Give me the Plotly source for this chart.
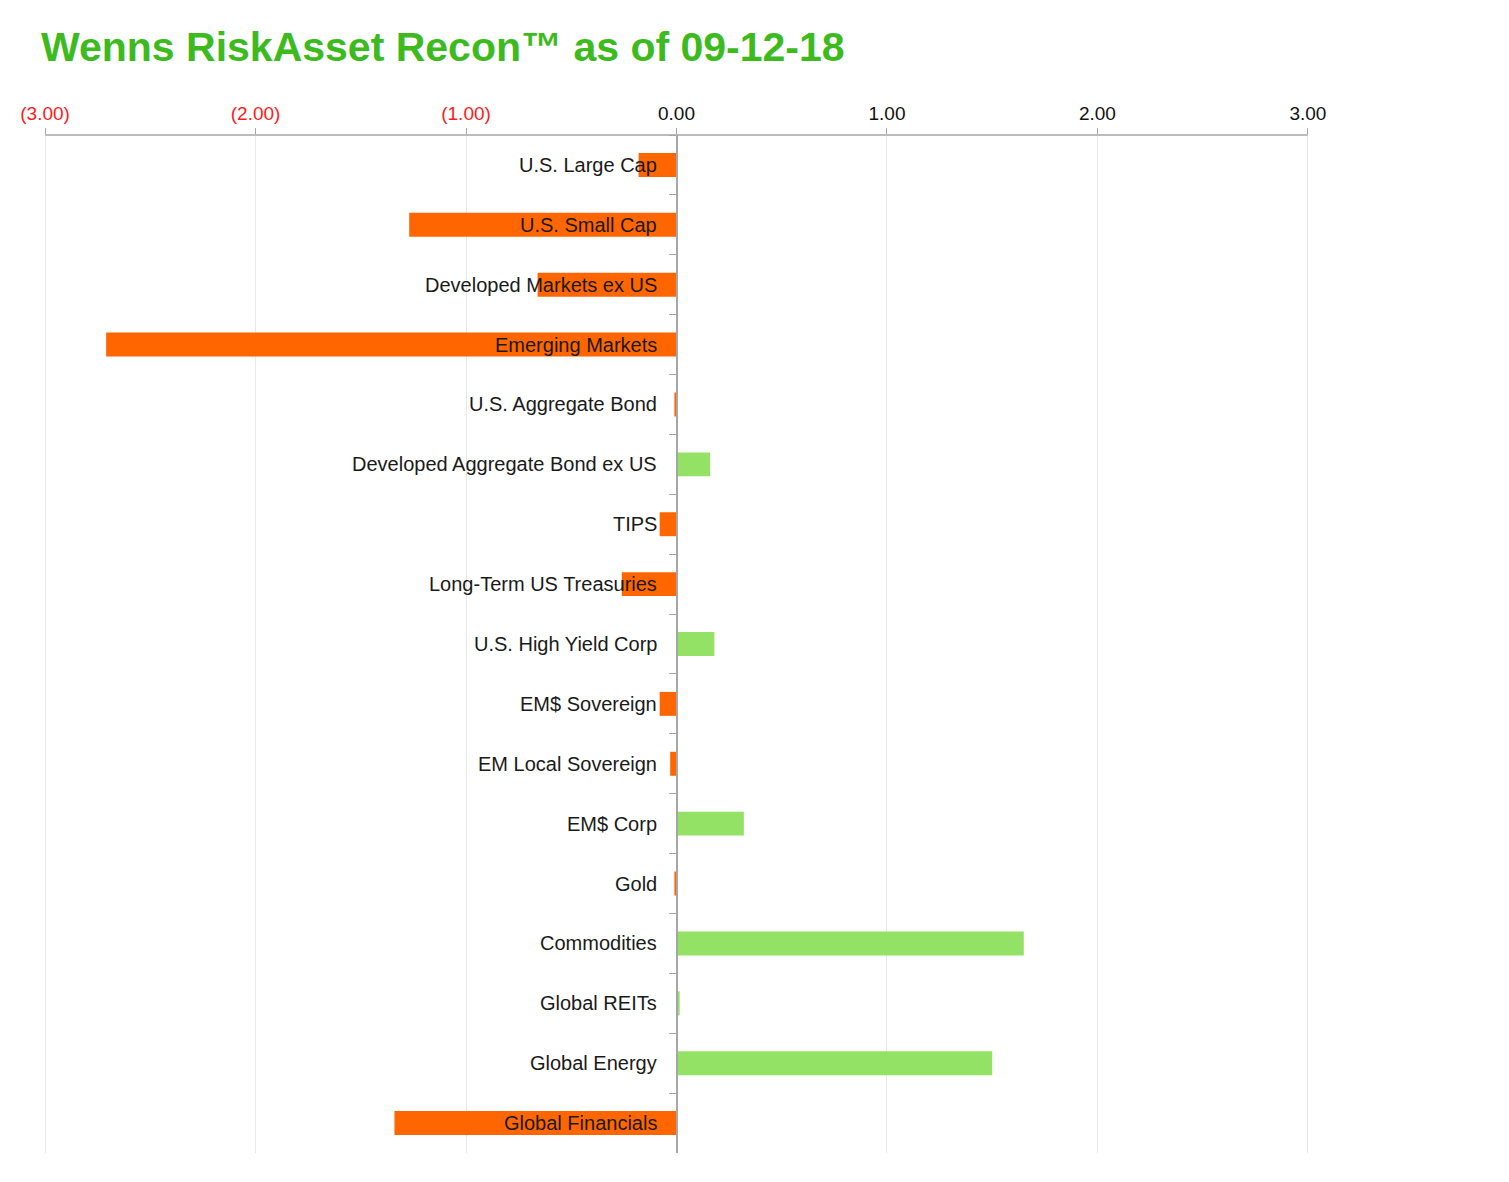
import plotly.graph_objects as go

categories = [
    "U.S. Large Cap", "U.S. Small Cap", "Developed Markets ex US", "Emerging Markets",
    "U.S. Aggregate Bond", "Developed Aggregate Bond ex US", "TIPS", "Long-Term US Treasuries",
    "U.S. High Yield Corp", "EM$ Sovereign", "EM Local Sovereign", "EM$ Corp", "Gold",
    "Commodities", "Global REITs", "Global Energy", "Global Financials",
]
values = [-0.18, -1.27, -0.66, -2.71, -0.01, 0.16, -0.08, -0.26, 0.18, -0.08, -0.03,
          0.32, -0.01, 1.65, 0.015, 1.50, -1.34]

tick_vals = [-3, -2, -1, 0, 1, 2, 3]
tick_text = ['<span style="color:#ff1a1a">(3.00)</span>', '<span style="color:#ff1a1a">(2.00)</span>',
             '<span style="color:#ff1a1a">(1.00)</span>', "0.00", "1.00", "2.00", "3.00"]

ORANGE = "#ff6600"
GREEN = "#93e265"
colors = [ORANGE if v < 0 else GREEN for v in values]

fig = go.Figure()
fig.add_trace(go.Bar(
    x=values, y=categories, orientation="h",
    marker=dict(color=colors, line=dict(width=0)),
    hoverinfo="x+y",
))

for c in categories:
    fig.add_annotation(x=0, y=c, xref="x", yref="y", text=c, showarrow=False,
                       xanchor="right", xshift=-18,
                       font=dict(family="Liberation Sans, Arial, sans-serif", size=20, color="#1a1a1a"))

fig.update_layout(
    width=1509, height=1182,
    margin=dict(l=31, r=207, t=127, b=37),
    paper_bgcolor="white", plot_bgcolor="white",
    bargap=0.6,
    showlegend=False,
    title=dict(text="<b>Wenns RiskAsset Recon™ as of 09-12-18</b>",
               x=33 / 1509, xanchor="left", y=1 - 39 / 1182, yanchor="middle",
               font=dict(family="Liberation Sans, Arial, sans-serif", size=41, color="#3dba1e")),
    xaxis=dict(
        side="top", range=[-3.01, 3.01], tickvals=tick_vals, ticktext=tick_text,
        showgrid=True, gridcolor="#e8e8e8", gridwidth=1,
        zeroline=False,
        showline=False,
        ticks="outside", ticklen=6, tickcolor="#a6a6a6",
        tickfont=dict(family="Liberation Sans, Arial, sans-serif", size=19, color="#111"),
        fixedrange=True,
    ),
    yaxis=dict(
        type="category", autorange="reversed",
        anchor="free", position=0.5,
        showline=True, linecolor="#a6a6a6", linewidth=1.5,
        ticks="outside", tickson="boundaries", ticklen=7, tickcolor="#a6a6a6",
        showticklabels=False, showgrid=False, zeroline=False,
    ),
    shapes=[dict(type="line", xref="x", yref="paper", x0=tick_vals[0], x1=tick_vals[-1],
                 y0=1, y1=1, line=dict(color="#a6a6a6", width=1.5))],
)

fig.write_html("out.html")
